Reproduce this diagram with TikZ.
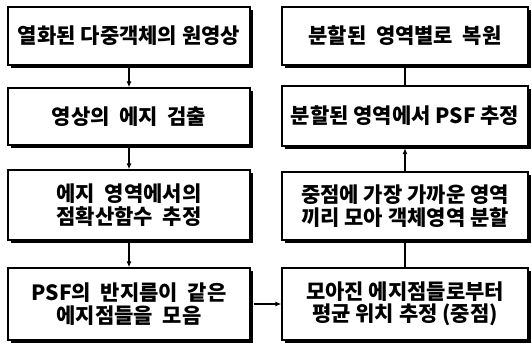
\documentclass[tikz,border=0pt]{standalone}
\usepackage{fontspec}
\newfontfamily\kr{Noto Sans CJK KR}
\usetikzlibrary{arrows.meta}
\begin{document}
\begin{tikzpicture}[x=1pt,y=-1pt,
  box/.style={draw=black,line width=1.3pt,fill=white,rectangle,inner sep=0pt,
    align=center,font=\kr\bfseries\fontsize{21}{22.5}\selectfont},
  conn/.style={line width=1.2pt},
  arr/.style={conn,-{Latex[length=6pt,width=5pt]}}]
\useasboundingbox[fill=white] (0,0) rectangle (532,345);
% shadows
\foreach \cx/\cy/\w/\h in {129/36/242/58, 129/116.5/242/57, 129/205/242/70, 129/304/242/72,
  405/36/246/58, 405/116/246/60, 405/206/246/68, 405/304/246/72}{
  \fill (\cx-\w/2+3,\cy-\h/2+3) rectangle (\cx+\w/2+3,\cy+\h/2+3);
}
\node[box,minimum width=242pt,minimum height=58pt] (b1) at (129,36) {열화된 다중객체의 원영상};
\node[box,minimum width=242pt,minimum height=57pt] (b2) at (129,116.5) {영상의\ \ 에지\ \ 검출};
\node[box,minimum width=242pt,minimum height=70pt] (b3) at (129,205) {에지\ \ 영역에서의\\점확산함수\ \ 추정};
\node[box,minimum width=242pt,minimum height=72pt] (b4) at (129,304) {PSF의\ \ 반지름이\ \ 같은\\에지점들을\ \ 모음};
\node[box,minimum width=246pt,minimum height=72pt] (b5) at (405,304) {모아진 에지점들로부터\\평균 위치 추정 (중점)};
\node[box,minimum width=246pt,minimum height=68pt] (b6) at (405,206) {중점에 가장 가까운 영역\\끼리 모아 객체영역 분할};
\node[box,minimum width=246pt,minimum height=60pt] (b7) at (405,116) {분할된 영역에서 PSF 추정};
\node[box,minimum width=246pt,minimum height=58pt] (b8) at (405,36) {분할된\ \ 영역별로\ \ 복원};
\draw[arr] ([yshift=-1.5pt]b1.south) -- (b2.north);
\draw[arr] ([yshift=-1.5pt]b2.south) -- (b3.north);
\draw[arr] ([yshift=-1.5pt]b3.south) -- (b4.north);
\draw[arr] ([xshift=3pt]b4.east) -- (b5.west);
\draw[conn] (b5.north) -- ([yshift=-1.5pt]b6.south);
\draw[arr] (b6.north) -- ([yshift=-1.5pt]b7.south);
\draw[conn] (b7.north) -- ([yshift=-1.5pt]b8.south);
\end{tikzpicture}
\end{document}
